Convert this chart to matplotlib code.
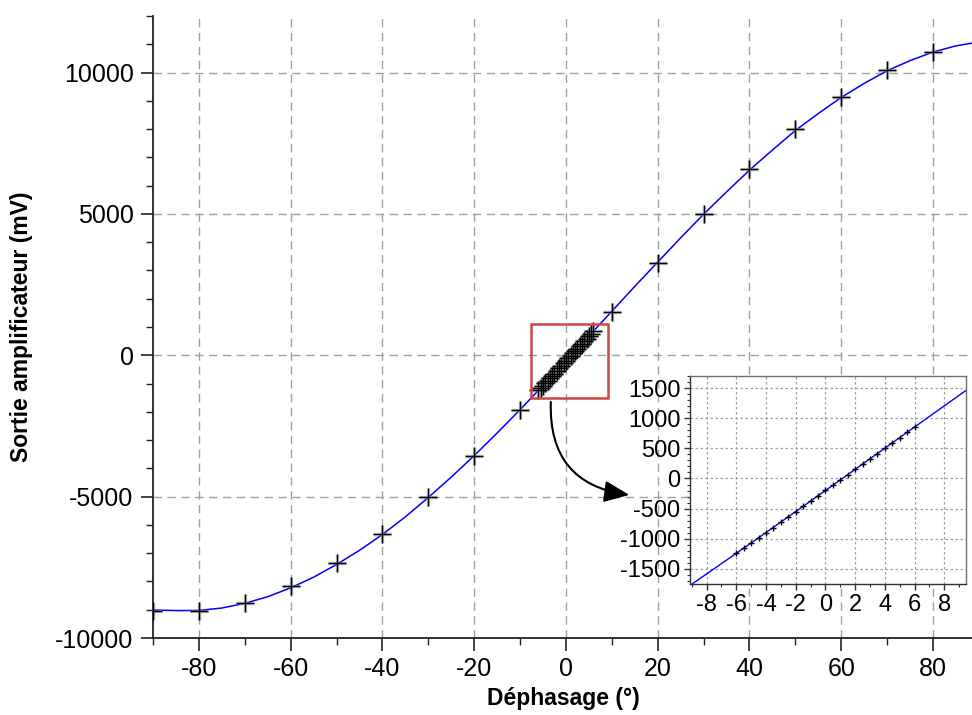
import matplotlib
matplotlib.use("Agg")
import matplotlib.pyplot as plt
from matplotlib.patches import Rectangle
from matplotlib.ticker import MultipleLocator

plt.rcParams['font.family'] = ['Liberation Sans', 'DejaVu Sans']
plt.rcParams['axes.unicode_minus'] = False

# ---- data ----
# coarse measurement points (degrees, mV)
coarse_x = [-90, -80, -70, -60, -50, -40, -30, -20, -10, 10, 20, 30, 40, 50, 60, 70, 80]
coarse_y = [-9040, -9033, -8762, -8175, -7360, -6336, -5006, -3558, -1943,
            1530, 3271, 5000, 6588, 8000, 9139, 10092, 10738]

# fine measurement points around 0
fine_x = [-6, -5.5, -5, -4.5, -4, -3.5, -3, -2.5, -2, -1.5, -1, -0.5, 0,
          0.5, 1, 1.5, 2, 2.5, 3, 3.5, 4, 4.5, 5, 5.5, 6]
fine_y = [-1237, -1151, -1075, -984, -898, -817, -726, -645, -554, -462, -376, -285, -199,
          -108, -32, 65, 151, 237, 328, 409, 505, 586, 672, 763, 849]

# fitted curve (blue line)
curve_x = [-90, -85, -80, -75, -70, -65, -60, -55, -50, -45, -40, -35, -30, -25, -20, -15,
           -10, -5, 0, 5, 10, 15, 20, 25, 30, 35, 40, 45, 50, 55, 60, 65, 70, 75, 80, 85, 88.5]
curve_y = [-9010, -9030, -9025, -8940, -8775, -8540, -8225, -7850, -7400, -6900, -6340,
           -5715, -5030, -4310, -3550, -2750, -1925, -1069, -200, 679, 1555, 2436, 3295,
           4153, 4990, 5777, 6550, 7258, 7950, 8551, 9120, 9616, 10065, 10422, 10725, 10944, 11040]

x_label = "Déphasage (°)"
y_label = "Sortie amplificateur (mV)"

W, H = 972, 715
fig = plt.figure(figsize=(W / 100, H / 100), dpi=100)

# ---- main axes ----
ax = fig.add_axes([153 / W, 1 - 638 / H, (972 - 153) / W, (638 - 16) / H])
ax.plot(curve_x, curve_y, color='#0000ff', lw=1.1, zorder=3)
for xs, ys in ((coarse_x, coarse_y), (fine_x, fine_y)):
    ax.plot(xs, ys, ls='none', marker='+', ms=13, mew=2.4, color='#909090', alpha=0.6, zorder=4)
    ax.plot(xs, ys, ls='none', marker='+', ms=13, mew=1.0, color='black', zorder=5)

ax.set_xlim(-90, 88.5)
ax.set_ylim(-10000, 12000)
ax.xaxis.set_major_locator(MultipleLocator(20))
ax.xaxis.set_minor_locator(MultipleLocator(10))
ax.yaxis.set_major_locator(MultipleLocator(5000))
ax.yaxis.set_minor_locator(MultipleLocator(1000))
ax.grid(True, which='major', color='#a0a0a0', ls=(0, (6, 4)), lw=1.0)
for s in ('top', 'right'):
    ax.spines[s].set_visible(False)
for s in ('left', 'bottom'):
    ax.spines[s].set_color('#222222')
    ax.spines[s].set_linewidth(1.3)
ax.tick_params(which='major', direction='out', length=9, width=1.2, color='#222222',
               labelsize=18, pad=5)
ax.tick_params(which='minor', direction='out', length=5, width=1.0, color='#222222')

fig.text(563 / W, 1 - 698 / H, x_label, ha='center', va='center', fontsize=16.5, fontweight='bold')
fig.text(22 / W, 1 - 327 / H, y_label, ha='center', va='center', rotation=90,
         fontsize=16.5, fontweight='bold')

# zoom rectangle
zoom_box_x0, zoom_box_y0, zoom_box_w, zoom_box_h = -7.6, -1520, 16.7, 2640
ax.add_patch(Rectangle((zoom_box_x0, zoom_box_y0), zoom_box_w, zoom_box_h, fill=False,
                       edgecolor='#d04545', lw=1.8, zorder=6))

# curved arrow
ax.annotate('', xy=(13.8, -4940), xytext=(-3.3, -1650),
            arrowprops=dict(arrowstyle='-|>,head_length=0.7,head_width=0.3',
                            connectionstyle='arc3,rad=0.45', color='black', lw=1.5,
                            mutation_scale=22, shrinkA=0, shrinkB=0),
            annotation_clip=False, zorder=7)

# ---- inset axes ----
axi = fig.add_axes([690 / W, 1 - 584 / H, (966 - 690) / W, (584 - 376) / H])
axi.plot(curve_x, curve_y, color='#0000ff', lw=1.0, zorder=3)
axi.plot(fine_x, fine_y, ls='none', marker='+', ms=4.5, mew=1.0, color='black', zorder=4)
axi.set_xlim(-9.12, 9.46)
axi.set_ylim(-1750, 1700)
axi.xaxis.set_major_locator(MultipleLocator(2))
axi.xaxis.set_minor_locator(MultipleLocator(1))
axi.yaxis.set_major_locator(MultipleLocator(500))
axi.yaxis.set_minor_locator(MultipleLocator(100))
axi.grid(True, which='major', color='#a0a0a0', ls=(0, (2, 2)), lw=0.9)
for s in axi.spines.values():
    s.set_color('#707070')
    s.set_linewidth(1.0)
axi.spines['left'].set_color('#303030')
axi.spines['bottom'].set_color('#303030')
axi.tick_params(which='major', direction='out', length=4, width=1.0, color='#303030',
                labelsize=17, pad=3)
axi.tick_params(which='minor', direction='out', length=2.5, width=0.8, color='#303030')

fig.savefig('out.png', dpi=100)
